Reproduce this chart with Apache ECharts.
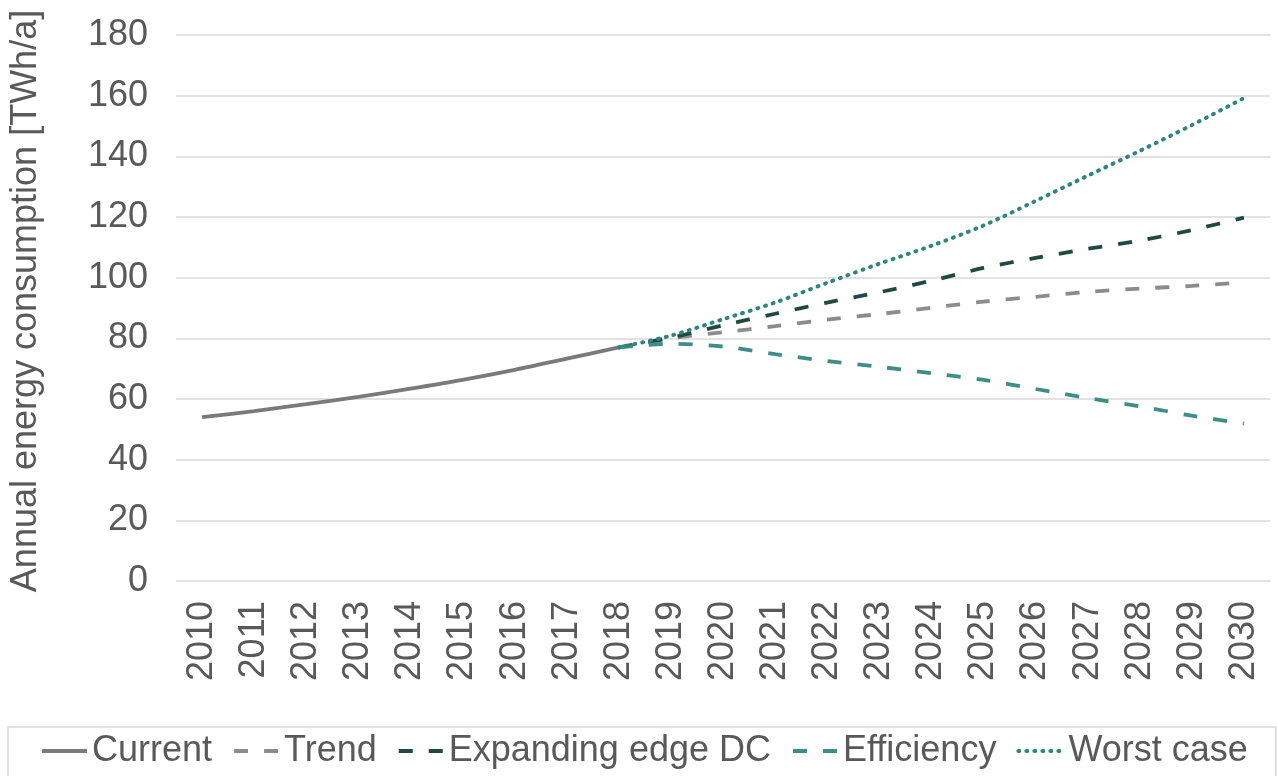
<!DOCTYPE html>
<html>
<head>
<meta charset="utf-8">
<script src="https://cdn.jsdelivr.net/npm/echarts@6/dist/echarts.min.js"></script>
<style>
html,body{margin:0;padding:0;background:#fff;}
#chart{width:1277px;height:776px;}
</style>
</head>
<body>
<div id="chart"></div>
<script>
const years = ['2010','2011','2012','2013','2014','2015','2016','2017','2018','2019','2020','2021','2022','2023','2024','2025','2026','2027','2028','2029','2030'];
const current    = [54, 56, 58.3, 60.7, 63.4, 66.3, 69.6, 73.3, 77, null, null, null, null, null, null, null, null, null, null, null, null];
const trend      = [null, null, null, null, null, null, null, null, 77, 80, 82, 84, 86.2, 88, 90.1, 92.1, 93.7, 95.3, 96.4, 97.3, 98.5];
const expanding  = [null, null, null, null, null, null, null, null, 77, 80.2, 84.3, 88.1, 91.8, 95.2, 99, 103.2, 106.5, 109.5, 112.2, 115.7, 119.8];
const efficiency = [null, null, null, null, null, null, null, null, 77, 78.2, 77.3, 74.8, 72.5, 70.6, 68.5, 66.3, 63.3, 60.3, 57.6, 54.5, 51.9];
const worstCase  = [null, null, null, null, null, null, null, null, 77, 80.9, 86.3, 91.8, 98.3, 104.6, 110.5, 117.2, 125.3, 133.6, 141.8, 150.3, 159.2];
const seriesNames = ['Current', 'Trend', 'Expanding edge DC', 'Efficiency', 'Worst case'];

const chart = echarts.init(document.getElementById('chart'), null, {renderer: 'canvas'});
const font = 'Liberation Sans, Arial, sans-serif';
const txt = '#595959';

function mk(name, data, color, type, cap, width) {
  return {
    name: name, type: 'line', data: data, smooth: 0.3, symbol: 'none', showSymbol: false,
    connectNulls: false,
    lineStyle: {color: color, width: width || 3.8, type: type, cap: cap || 'butt'},
    itemStyle: {color: color}
  };
}

chart.setOption({
  animation: false,
  textStyle: {fontFamily: font},
  grid: {left: 175, right: 7, top: 35, bottom: 195, containLabel: false},
  xAxis: {
    type: 'category', data: years, boundaryGap: true,
    axisLine: {show: false}, axisTick: {show: false},
    axisLabel: {rotate: 90, color: txt, fontSize: 36, fontFamily: font, margin: 20, interval: 0}
  },
  yAxis: {
    type: 'value', min: 0, max: 180, interval: 20,
    name: 'Annual energy consumption [TWh/a]', nameLocation: 'middle', nameGap: 132,
    nameTextStyle: {color: txt, fontSize: 36, fontFamily: font, padding: [0, 0, 0, 14]},
    axisLine: {show: false}, axisTick: {show: false},
    axisLabel: {color: txt, fontSize: 36, fontFamily: font, margin: 28},
    splitLine: {lineStyle: {color: '#d9d9d9', width: 1.5}}
  },
  legend: {
    data: seriesNames, left: 8, top: 727, width: 1250,
    padding: [6, 28, 10, 32], itemGap: 20, itemWidth: 45, itemHeight: 14,
    borderColor: '#d9d9d9', borderWidth: 1.5,
    itemStyle: {opacity: 0},
    lineStyle: {width: 4},
    textStyle: {color: txt, fontSize: 36, fontFamily: font}
  },
  series: [
    mk('Current', current, '#7a7a7a', 'solid'),
    mk('Trend', trend, '#8c8c8c', [14, 16]),
    mk('Expanding edge DC', expanding, '#1f4a44', [14, 16]),
    mk('Efficiency', efficiency, '#3d8d88', [14, 16]),
    mk('Worst case', worstCase, '#2f8580', [1, 7], 'round', 4)
  ]
});
</script>
</body>
</html>
